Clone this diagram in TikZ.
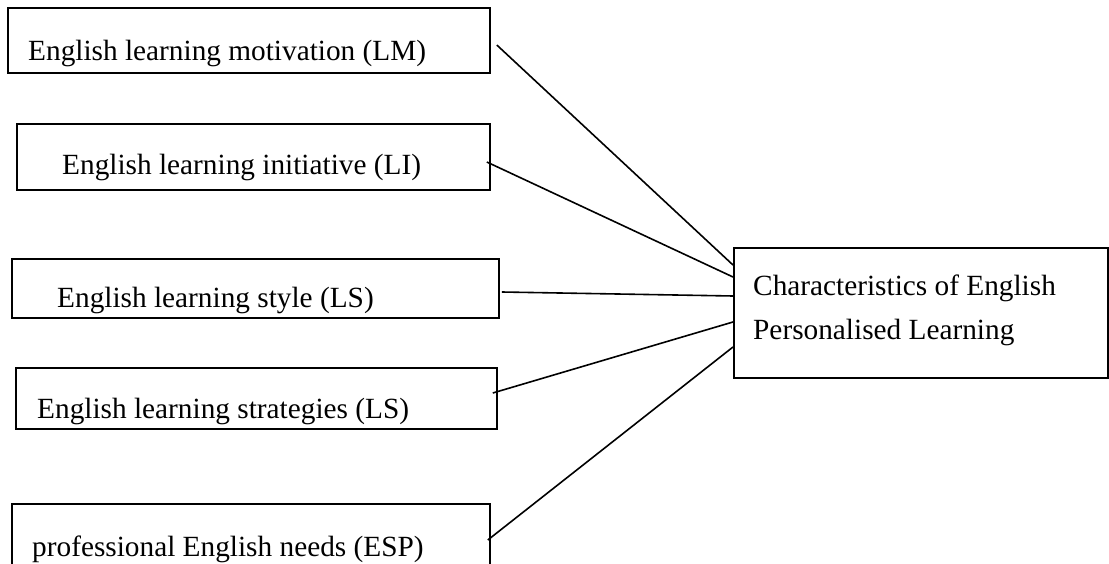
\documentclass[tikz,border=0pt]{standalone}
\usepackage{fontspec}
\setmainfont{Liberation Serif}
\usetikzlibrary{calc}
\begin{document}
\begin{tikzpicture}[x=1pt,y=-1pt,
  box/.style={draw, line width=1.8pt, inner sep=0pt, anchor=north west},
  lbl/.style={anchor=base west, inner sep=0pt, font=\fontsize{29.3}{35}\selectfont},
  conn/.style={line width=1.6pt}]
\clip (0,0) rectangle (1109,564);
% source boxes
\node[box, minimum width=482pt, minimum height=65pt] (lm) at (7,7) {};
\node[box, minimum width=473pt, minimum height=66pt] (li) at (16,123) {};
\node[box, minimum width=487pt, minimum height=59pt] (ls) at (11,258) {};
\node[box, minimum width=481pt, minimum height=61pt] (st) at (15,367) {};
\node[box, minimum width=478pt, minimum height=100pt] (esp) at (11,503) {};
% target box
\node[box, minimum width=374pt, minimum height=130pt] (tgt) at (733,247) {};
% texts
\node[lbl] (lmt) at (28,61) {English learning motivation (LM)};
\node[lbl] (lit) at (62,175) {English learning initiative (LI)};
\node[lbl] (lst) at (57,308) {English learning style (LS)};
\node[lbl] (stt) at (37,418) {English learning strategies (LS)};
\node[lbl] (espt) at (32,556) {professional English needs (ESP)};
\node[lbl] (tgt1) at (753,296) {Characteristics of English};
\node[lbl] (tgt2) at (753,339) {Personalised Learning};
% connectors
\coordinate (lmo) at ($(lm.north east)+(6,38)$);
\coordinate (lio) at ($(li.north east)+(-4,39)$);
\coordinate (lso) at ($(ls.north east)+(2,34)$);
\coordinate (sto) at ($(st.north east)+(-5,26)$);
\coordinate (espo) at ($(esp.north east)+(-3,37)$);
\draw[conn] (lmo) -- ($(tgt.north west)+(0,18)$);
\draw[conn] (lio) -- ($(tgt.north west)+(0,30)$);
\draw[conn] (lso) -- ($(tgt.north west)+(0,49)$);
\draw[conn] (sto) -- ($(tgt.north west)+(0,75)$);
\draw[conn] (espo) -- ($(tgt.north west)+(0,100)$);
\end{tikzpicture}
\end{document}
